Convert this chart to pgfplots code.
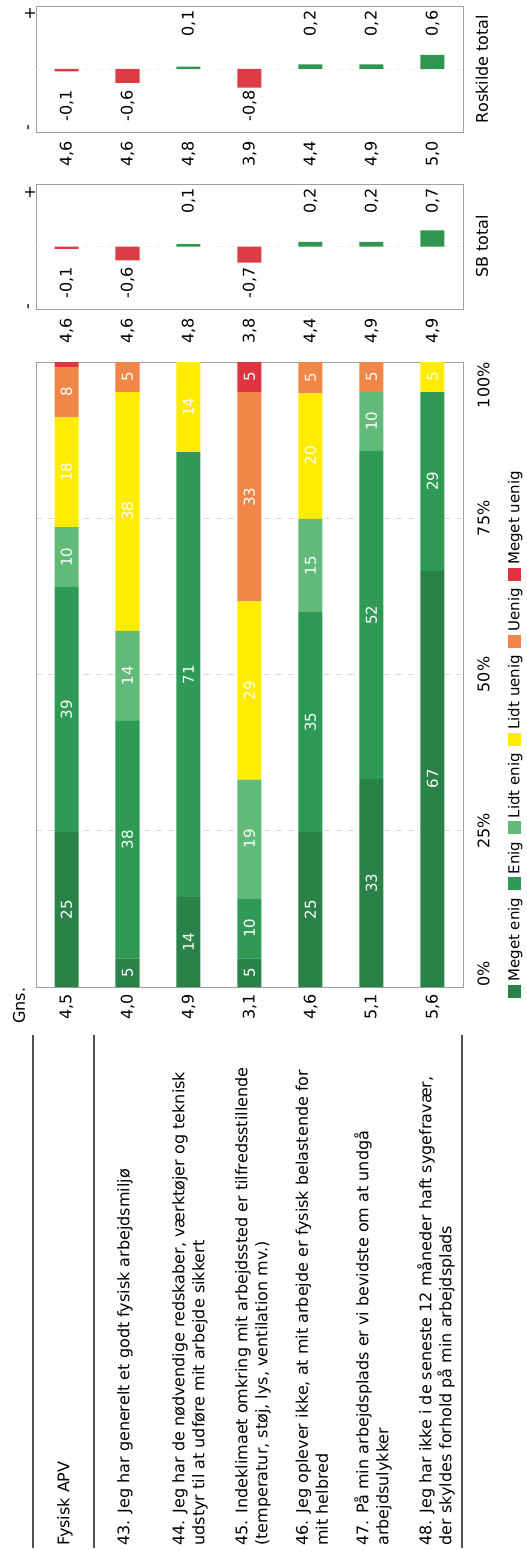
\documentclass[border=0pt]{standalone}
\usepackage{pgfplots}
\pgfplotsset{compat=1.18}
\usepackage{fontspec}
\setmainfont{DejaVu Sans}

\definecolor{megetenig}{HTML}{2A8248}
\definecolor{enig}{HTML}{2E9A55}
\definecolor{lidtenig}{HTML}{62BA78}
\definecolor{lidtuenig}{HTML}{FFEC00}
\definecolor{uenig}{HTML}{F08648}
\definecolor{megetuenig}{HTML}{DE3440}
\definecolor{neg}{HTML}{DC3C46}
\definecolor{pos}{HTML}{2E9650}
\definecolor{framegray}{HTML}{A0A0A0}
\definecolor{rulegray}{HTML}{505050}

\newcommand\lab{\fontsize{8}{10}\selectfont}
\newcommand\barlab{\fontsize{7.5}{9}\selectfont}

\pgfplotsset{
  panel/.style={
    scale only axis, width=213.5pt, xmin=-0.5, xmax=6.5,
    axis line style={framegray}, major tick length=0pt,
    xtick={0,...,6},
    xticklabel style={rotate=90, anchor=east, font=\lab},
  },
  difflabels/.style={
    draw=none, mark=none, nodes near coords={\pgfplotspointmeta},
    point meta=explicit symbolic,
    every node near coord/.append style={rotate=90, anchor=west, font=\lab, text=black},
  },
}

\begin{document}
\begin{tikzpicture}[x=0.5pt,y=-0.5pt]
\useasboundingbox (0,0) rectangle (526,1551);

%-- Roskilde total
\begin{axis}[panel, at={(18pt,-66pt)}, anchor=south west, height=63pt,
  ymin=-2.7, ymax=2.7, ytick=\empty,
  xticklabels={{4,6},{4,6},{4,8},{3,9},{4,4},{4,9},{5,0}},
  xticklabel shift=1pt]
  \draw[gray!12, dashed] (axis cs:-0.5,0) -- (axis cs:6.5,0);
  \addplot[ybar, bar width=12pt, bar shift=0pt, fill=neg, draw=none]
    coordinates {(0,-0.1) (1,-0.6) (3,-0.8)};
  \addplot[ybar, bar width=12pt, bar shift=0pt, fill=pos, draw=none]
    coordinates {(2,0.1) (4,0.2) (5,0.2) (6,0.6)};
  \addplot[difflabels] coordinates {
    (0,-2.55) [{-0,1}] (1,-2.55) [{-0,6}] (2,1.1) [{0,1}] (3,-2.55) [{-0,8}]
    (4,1.1) [{0,2}] (5,1.1) [{0,2}] (6,1.1) [{0,6}]};
\end{axis}

%-- SB total
\begin{axis}[panel, at={(18pt,-154.5pt)}, anchor=south west, height=62.5pt,
  ymin=-2.7, ymax=2.7, ytick=\empty,
  xticklabels={{4,6},{4,6},{4,8},{3,8},{4,4},{4,9},{4,9}},
  xticklabel shift=1pt]
  \draw[gray!12, dashed] (axis cs:-0.5,0) -- (axis cs:6.5,0);
  \addplot[ybar, bar width=12pt, bar shift=0pt, fill=neg, draw=none]
    coordinates {(0,-0.1) (1,-0.6) (3,-0.7)};
  \addplot[ybar, bar width=12pt, bar shift=0pt, fill=pos, draw=none]
    coordinates {(2,0.1) (4,0.2) (5,0.2) (6,0.7)};
  \addplot[difflabels] coordinates {
    (0,-2.55) [{-0,1}] (1,-2.55) [{-0,6}] (2,1.1) [{0,1}] (3,-2.55) [{-0,7}]
    (4,1.1) [{0,2}] (5,1.1) [{0,2}] (6,1.1) [{0,7}]};
\end{axis}

%-- main stacked bars
\begin{axis}[panel, at={(18pt,-493.5pt)}, anchor=south west, height=312.5pt,
  ybar stacked, bar width=12pt, ymin=0, ymax=100,
  xticklabels={{4,5},{4,0},{4,9},{3,1},{4,6},{5,1},{5,6}},
  ytick={25,50,75}, yticklabels={25\%,50\%,75\%}, yticklabel pos=right,
  yticklabel style={rotate=90, anchor=north, inner sep=0pt, font=\lab},
  yticklabel shift=7pt,
  ymajorgrids, grid style={dashed, gray!30},
  every axis plot/.append style={draw=none}]
  %-- Meget enig
  \addplot[fill=megetenig] coordinates {(0,24.8) (1,4.6) (2,14.4) (3,4.6) (4,24.8) (5,33.3) (6,66.6)};
  %-- Enig
  \addplot[fill=enig] coordinates {(0,39.2) (1,38.0) (2,71.2) (3,9.6) (4,35.2) (5,52.5) (6,28.6)};
  %-- Lidt enig
  \addplot[fill=lidtenig] coordinates {(0,9.6) (1,14.4) (2,0) (3,19.0) (4,14.9) (5,9.4) (6,0)};
  %-- Lidt uenig
  \addplot[fill=lidtuenig] coordinates {(0,17.6) (1,38.2) (2,14.4) (3,28.5) (4,20.1) (5,0) (6,4.8)};
  %-- Uenig
  \addplot[fill=uenig] coordinates {(0,8.0) (1,4.8) (2,0) (3,33.5) (4,5.0) (5,4.8) (6,0)};
  %-- Meget uenig
  \addplot[fill=megetuenig] coordinates {(0,0.8) (1,0) (2,0) (3,4.8) (4,0) (5,0) (6,0)};
\end{axis}

%-- value labels in the segments
\begin{axis}[panel, at={(18pt,-493.5pt)}, anchor=south west, height=312.5pt,
  ymin=0, ymax=100, hide axis]
  \addplot[draw=none, mark=none, nodes near coords={\pgfplotspointmeta},
    point meta=explicit symbolic,
    every node near coord/.append style={rotate=90, anchor=center, font=\barlab, text=white}]
  coordinates {
    (0,12.4) [25] (0,44.4) [39] (0,68.8) [10] (0,82.4) [18] (0,95.2) [8]
    (1,2.3) [5] (1,23.6) [38] (1,49.8) [14] (1,76.1) [38] (1,97.6) [5]
    (2,7.2) [14] (2,50.0) [71] (2,92.8) [14]
    (3,2.3) [5] (3,9.4) [10] (3,23.7) [19] (3,47.4) [29] (3,78.4) [33] (3,97.6) [5]
    (4,12.4) [25] (4,42.4) [35] (4,67.4) [15] (4,85.0) [20] (4,97.5) [5]
    (5,16.6) [33] (5,59.5) [52] (5,90.5) [10] (5,97.6) [5]
    (6,33.3) [67] (6,80.9) [29] (6,97.6) [5]};
\end{axis}

%-- end tick labels of the percentage axis
\node[rotate=90, anchor=north west, inner sep=0pt, font=\lab] at (477,987) {0\%};
\node[rotate=90, anchor=north east, inner sep=0pt, font=\lab] at (477,362) {100\%};

%-- panel titles and signs
\node[rotate=90, font=\lab] at (482,69) {Roskilde total};
\node[rotate=90, font=\lab] at (482,246.5) {SB total};
\foreach \yy in {13,192} \node[font=\lab] at (30,\yy) {+};
\foreach \yy in {128,307} \node[rotate=90, font=\lab] at (30,\yy) {-};

%-- Gns. header
\node[rotate=90, anchor=west, inner sep=0pt, font=\lab] at (19,1024) {Gns.};

%-- rules of the question table
\foreach \xx in {33,94,462} \draw[rulegray, line width=1pt] (\xx,1035) -- (\xx,1548);

%-- question texts
\begin{scope}[every node/.style={rotate=90, anchor=west, inner sep=0pt, align=left, font=\lab}]
\node at (65,1546) {Fysisk APV};
\node at (125,1546) {43. Jeg har generelt et godt fysisk arbejdsmiljø};
\node at (190,1546) {44. Jeg har de nødvendige redskaber, værktøjer og teknisk\\udstyr til at udføre mit arbejde sikkert};
\node at (253,1546) {45. Indeklimaet omkring mit arbejdssted er tilfredsstillende\\(temperatur, støj, lys, ventilation mv.)};
\node at (312,1546) {46. Jeg oplever ikke, at mit arbejde er fysisk belastende for\\mit helbred};
\node at (373,1546) {47. På min arbejdsplads er vi bevidste om at undgå\\arbejdsulykker};
\node at (436,1546) {48. Jeg har ikke i de seneste 12 måneder haft sygefravær,\\der skyldes forhold på min arbejdsplads};
\end{scope}

%-- legend
\node[rotate=90, anchor=west, inner sep=0pt, font=\fontsize{7.5}{9}\selectfont] at (515,998) {%
\textcolor{megetenig}{\rule[-0.6pt]{6.5pt}{6.5pt}}\hspace{1.5pt}Meget enig\hspace{3.7pt}%
\textcolor{enig}{\rule[-0.6pt]{6.5pt}{6.5pt}}\hspace{1.5pt}Enig\hspace{3.7pt}%
\textcolor{lidtenig}{\rule[-0.6pt]{6.5pt}{6.5pt}}\hspace{1.5pt}Lidt enig\hspace{3.7pt}%
\textcolor{lidtuenig}{\rule[-0.6pt]{6.5pt}{6.5pt}}\hspace{1.5pt}Lidt uenig\hspace{3.7pt}%
\textcolor{uenig}{\rule[-0.6pt]{6.5pt}{6.5pt}}\hspace{1.5pt}Uenig\hspace{3.7pt}%
\textcolor{megetuenig}{\rule[-0.6pt]{6.5pt}{6.5pt}}\hspace{1.5pt}Meget uenig};

\end{tikzpicture}
\end{document}
